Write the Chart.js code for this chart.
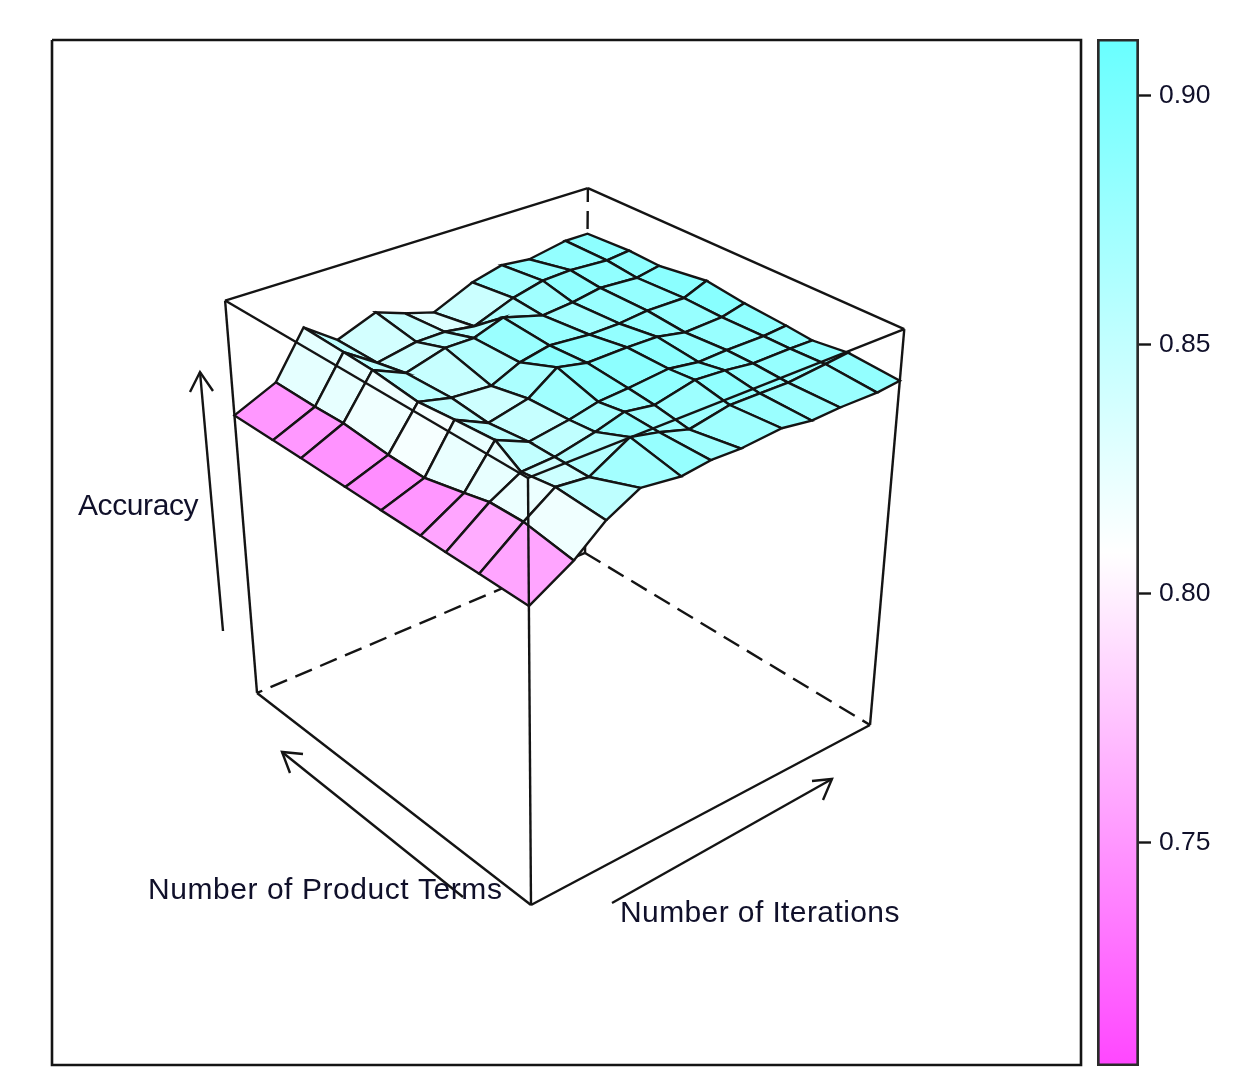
<!DOCTYPE html>
<html><head><meta charset="utf-8">
<script src="https://cdn.jsdelivr.net/npm/chart.js@4"></script>
<style>
html,body{margin:0;padding:0;background:#fff;overflow:hidden}
canvas{position:absolute;filter:blur(0.6px)}
#main{left:0;top:0}
#key{left:1090px;top:15px}
</style></head><body>
<canvas id="main" width="1238" height="1082"></canvas>
<canvas id="key" width="148" height="1075"></canvas>
<script>
// normalised axis positions of the surface grid
const iterationLevels = [0,.11,.19,.276,.382,.46,.542,.654,.74,.822,.932,1];
const productTermLevels = [0,.15,.255,.336,.467,.59,.748,.852,1];
// accuracy per iteration level (one value per product-term level)
const acc00 = [.724,.725,.725,.726,.726,.727,.728,.728,.728];
const acc01 = [.782,.800,.798,.784,.762,.764,.774,.772,.773];
const acc02 = [.841,.849,.838,.876,.869,.861,.874,.877,.881];
const acc03 = [.881,.841,.842,.843,.833,.843,.840,.825,.825];
const acc04 = [.869,.894,.863,.858,.855,.837,.867,.843,.861];
const acc05 = [.878,.879,.883,.874,.903,.868,.867,.844,.836];
const acc06 = [.876,.858,.872,.879,.888,.883,.892,.833,.814];
const acc07 = [.884,.877,.894,.889,.890,.875,.864,.870,.857];
const acc08 = [.873,.876,.889,.878,.889,.876,.871,.888,.876];
const acc09 = [.876,.875,.880,.881,.875,.883,.883,.891,.868];
const acc10 = [.875,.884,.881,.881,.879,.882,.877,.885,.885];
const acc11 = [.881,.890,.880,.886,.893,.905,.888,.891,.885];
const accuracy = [acc00,acc01,acc02,acc03,acc04,acc05,acc06,acc07,acc08,acc09,acc10,acc11];
const keyTicks = [0.75,0.80,0.85,0.90];
const keyRange = [0.7052,0.9113];
const axisTitles = ["Accuracy","Number of Product Terms","Number of Iterations"];

// perspective camera (homogeneous 3x4) : u,v,w in 0..1
const cam = {x:[443.6,-238.5,-61.1,531], y:[-92.9,-116.4,-479.6,905], d:[.1202,.138,-.11,1]};
function project(u,v,w){
  const d = cam.d[0]*u+cam.d[1]*v+cam.d[2]*w+cam.d[3];
  return {x:(cam.x[0]*u+cam.x[1]*v+cam.x[2]*w+cam.x[3])/d,
          y:(cam.y[0]*u+cam.y[1]*v+cam.y[2]*w+cam.y[3])/d};
}
function colour(val){
  const mid=.808, t=(val-mid)/(val>mid?keyRange[1]-mid:mid-keyRange[0]);
  const a=Math.min(1,Math.abs(t));
  return val>mid ? `rgb(${Math.round(255-a*150)},255,255)` : `rgb(255,${Math.round(255-a*185)},255)`;
}
const INK='#141414';
function seg(pts,dash,width){return {data:pts,showLine:true,pointRadius:0,borderColor:INK,borderWidth:width||2.4,borderDash:dash||[],fill:false,tension:0,clip:false};}
const drawList=[];
const C=(u,v,w)=>project(u,v,w);
// hidden box edges
const DASH=[18,9];
drawList.push(seg([C(1,1,0),C(1,1,1)],DASH));
drawList.push(seg([C(1,1,0),C(0,1,0)],DASH));
drawList.push(seg([C(1,1,0),C(1,0,0)],DASH));
// surface cells, far to near
for(let i=iterationLevels.length-2;i>=0;i--){
  for(let j=productTermLevels.length-2;j>=0;j--){
    const u0=iterationLevels[i],u1=iterationLevels[i+1],v0=productTermLevels[j],v1=productTermLevels[j+1];
    const a=accuracy[i][j],b=accuracy[i+1][j],c=accuracy[i+1][j+1],d=accuracy[i][j+1];
    const p=[C(u0,v0,a),C(u1,v0,b),C(u1,v1,c),C(u0,v1,d),C(u0,v0,a)];
    drawList.push({data:p,showLine:true,pointRadius:0,borderColor:INK,borderWidth:2.4,backgroundColor:colour((a+b+c+d)/4),fill:'shape',tension:0,clip:false});
  }
}
// visible box edges
[[[0,0,0],[1,0,0]],[[0,0,0],[0,1,0]],[[1,0,0],[1,0,1]],[[0,1,0],[0,1,1]],[[0,0,0],[0,0,1]],
 [[0,0,1],[1,0,1]],[[1,0,1],[1,1,1]],[[1,1,1],[0,1,1]],[[0,1,1],[0,0,1]]].forEach(e=>drawList.push(seg([C(...e[0]),C(...e[1])])));
// axis arrows
[[[223,631],[200,372]],[[190,392],[200,372],[213,391]],
 [[463,897],[282,752]],[[303,754],[282,752],[290,773]],
 [[612,903],[832,779]],[[812,781],[832,779],[823,800]]].forEach(a=>drawList.push(seg(a.map(p=>({x:p[0],y:p[1]})))));
// panel frame
drawList.push(seg([{x:52,y:40},{x:1081,y:40},{x:1081,y:1065},{x:52,y:1065},{x:52,y:40}],null,2.6));

const titles={id:'titles',afterDatasetsDraw(ch){
  const g=ch.ctx,sx=ch.scales.x,sy=ch.scales.y;
  g.save();g.fillStyle='#10102a';g.font='30px "Liberation Sans"';g.textBaseline='middle';g.textAlign='left';
  g.letterSpacing='-0.4px';
  g.fillText(axisTitles[0],sx.getPixelForValue(78),sy.getPixelForValue(507));
  g.letterSpacing='0.55px';
  g.fillText(axisTitles[1],sx.getPixelForValue(148),sy.getPixelForValue(891));
  g.letterSpacing='0.4px';
  g.fillText(axisTitles[2],sx.getPixelForValue(620),sy.getPixelForValue(914));
  g.restore();
}};
new Chart(document.getElementById('main'),{type:'scatter',
  data:{datasets:drawList.slice().reverse()},
  plugins:[titles],
  options:{responsive:false,animation:false,devicePixelRatio:1,layout:{padding:0},
    plugins:{legend:{display:false},tooltip:{enabled:false}},
    scales:{x:{type:'linear',display:false,min:0,max:1238},y:{type:'linear',display:false,min:0,max:1082,reverse:true}}}});

new Chart(document.getElementById('key'),{type:'bar',
  data:{labels:[''],datasets:[{data:[keyRange],barPercentage:1,categoryPercentage:1,borderColor:'#2a2a2a',borderWidth:3,borderSkipped:false,
    backgroundColor(ctx){
      const ch=ctx.chart,s=ch.scales.y; if(!s||!ch.chartArea) return '#fff';
      const gr=ch.ctx.createLinearGradient(0,s.getPixelForValue(keyRange[1]),0,s.getPixelForValue(keyRange[0]));
      for(let k=0;k<=20;k++){const v=keyRange[1]-(keyRange[1]-keyRange[0])*k/20;gr.addColorStop(k/20,colour(v));}
      return gr;}}]},
  options:{responsive:false,animation:false,devicePixelRatio:1,layout:{padding:{left:7,top:0,bottom:0,right:0}},
    plugins:{legend:{display:false},tooltip:{enabled:false}},
    scales:{x:{display:false},
      y:{position:'right',min:keyRange[0],max:keyRange[1],afterFit(s){s.width=99;},
        afterBuildTicks(s){s.ticks=keyTicks.map(v=>({value:v}));},
        border:{display:false},
        grid:{drawOnChartArea:false,tickLength:12,tickColor:INK,tickWidth:2.4,color:INK},
        ticks:{padding:8,color:'#10102a',font:{family:'"Liberation Sans"',size:26.5},callback:v=>v.toFixed(2)}}}}});
</script></body></html>
